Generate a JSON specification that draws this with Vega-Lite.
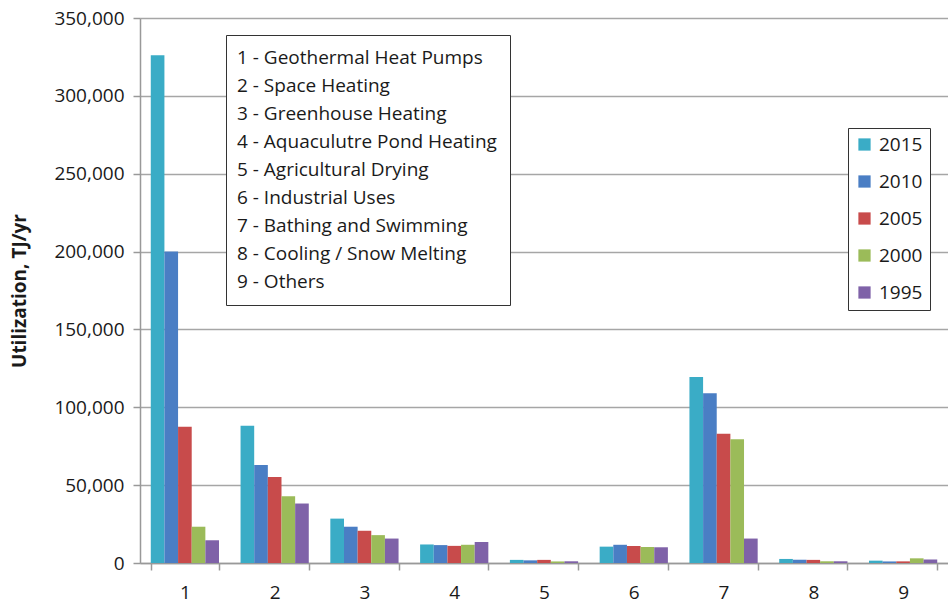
{
  "$schema": "https://vega.github.io/schema/vega-lite/v6.json",
  "width": 808,
  "height": 545,
  "autosize": {"type": "none"},
  "padding": {"left": 140, "top": 18, "right": 0, "bottom": 42},
  "background": "white",
  "config": {
    "view": {"stroke": null},
    "font": "Open Sans",
    "legend": {"labelFont": "Open Sans", "labelColor": "#1a1a1a"},
    "axis": {"labelFont": "Open Sans", "titleFont": "Open Sans", "labelColor": "#1a1a1a", "titleColor": "#1a1a1a"}
  },
  "datasets": {
    "bars": [
      {"cat": "1", "year": "2015", "value": 326000},
      {"cat": "1", "year": "2010", "value": 200000},
      {"cat": "1", "year": "2005", "value": 87500},
      {"cat": "1", "year": "2000", "value": 23300},
      {"cat": "1", "year": "1995", "value": 14600},
      {"cat": "2", "year": "2015", "value": 88200},
      {"cat": "2", "year": "2010", "value": 63000},
      {"cat": "2", "year": "2005", "value": 55300},
      {"cat": "2", "year": "2000", "value": 42900},
      {"cat": "2", "year": "1995", "value": 38200},
      {"cat": "3", "year": "2015", "value": 28500},
      {"cat": "3", "year": "2010", "value": 23300},
      {"cat": "3", "year": "2005", "value": 20700},
      {"cat": "3", "year": "2000", "value": 17900},
      {"cat": "3", "year": "1995", "value": 15700},
      {"cat": "4", "year": "2015", "value": 11900},
      {"cat": "4", "year": "2010", "value": 11500},
      {"cat": "4", "year": "2005", "value": 11000},
      {"cat": "4", "year": "2000", "value": 11700},
      {"cat": "4", "year": "1995", "value": 13500},
      {"cat": "5", "year": "2015", "value": 2000},
      {"cat": "5", "year": "2010", "value": 1700},
      {"cat": "5", "year": "2005", "value": 2000},
      {"cat": "5", "year": "2000", "value": 1000},
      {"cat": "5", "year": "1995", "value": 1100},
      {"cat": "6", "year": "2015", "value": 10500},
      {"cat": "6", "year": "2010", "value": 11700},
      {"cat": "6", "year": "2005", "value": 10900},
      {"cat": "6", "year": "2000", "value": 10200},
      {"cat": "6", "year": "1995", "value": 10100},
      {"cat": "7", "year": "2015", "value": 119400},
      {"cat": "7", "year": "2010", "value": 109000},
      {"cat": "7", "year": "2005", "value": 83000},
      {"cat": "7", "year": "2000", "value": 79500},
      {"cat": "7", "year": "1995", "value": 15700},
      {"cat": "8", "year": "2015", "value": 2600},
      {"cat": "8", "year": "2010", "value": 2100},
      {"cat": "8", "year": "2005", "value": 2000},
      {"cat": "8", "year": "2000", "value": 1100},
      {"cat": "8", "year": "1995", "value": 1100},
      {"cat": "9", "year": "2015", "value": 1500},
      {"cat": "9", "year": "2010", "value": 1000},
      {"cat": "9", "year": "2005", "value": 1050},
      {"cat": "9", "year": "2000", "value": 3000},
      {"cat": "9", "year": "1995", "value": 2250}
    ],
    "names": [
      {"cat": "1", "name": "1 - Geothermal Heat Pumps"},
      {"cat": "2", "name": "2 - Space Heating"},
      {"cat": "3", "name": "3 - Greenhouse Heating"},
      {"cat": "4", "name": "4 - Aquaculutre Pond Heating"},
      {"cat": "5", "name": "5 - Agricultural Drying"},
      {"cat": "6", "name": "6 - Industrial Uses"},
      {"cat": "7", "name": "7 - Bathing and Swimming"},
      {"cat": "8", "name": "8 - Cooling / Snow Melting"},
      {"cat": "9", "name": "9 - Others"}
    ]
  },
  "layer": [
    {
      "data": {"name": "bars"},
      "mark": {"type": "bar"},
      "encoding": {
        "x": {
          "field": "cat", "type": "nominal",
          "scale": {"paddingInner": 0.24, "paddingOuter": 0.12},
          "axis": {
            "title": null, "labelAngle": 0, "labelFontSize": 19, "tickBand": "extent",
            "tickSize": 7, "tickColor": "#999999", "domainColor": "#999999", "domainWidth": 1.5,
            "tickWidth": 1.5, "labelPadding": 13, "grid": false
          }
        },
        "xOffset": {
          "field": "year", "type": "nominal",
          "sort": ["2015", "2010", "2005", "2000", "1995"],
          "scale": {"paddingInner": 0, "paddingOuter": 0}
        },
        "y": {
          "field": "value", "type": "quantitative",
          "scale": {"domain": [0, 350000], "nice": false},
          "axis": {
            "title": "Utilization, TJ/yr", "titleFontSize": 19, "titleFontWeight": "bold",
            "titlePadding": 24, "labelFontSize": 19, "format": ",d",
            "values": [0, 50000, 100000, 150000, 200000, 250000, 300000, 350000],
            "tickSize": 7, "tickColor": "#999999", "tickWidth": 1.5,
            "domainColor": "#999999", "domainWidth": 1.5,
            "grid": true, "gridColor": "#a6a6a6", "gridWidth": 1.5, "labelPadding": 9
          }
        },
        "color": {
          "field": "year", "type": "nominal",
          "scale": {
            "domain": ["2015", "2010", "2005", "2000", "1995"],
            "range": ["#3aacc6", "#4a7ec4", "#c84b4b", "#9bbb59", "#7f62a8"]
          },
          "legend": {
            "orient": "none", "legendX": 708, "legendY": 110, "title": null,
            "labelFontSize": 19, "symbolType": "square", "symbolSize": 150,
            "rowPadding": 17, "padding": 7, "labelOffset": 5,
            "strokeColor": "#333333", "fillColor": "white", "symbolStrokeWidth": 0
          }
        }
      }
    },
    {
      "data": {"name": "names"},
      "mark": {"type": "point", "opacity": 0},
      "encoding": {
        "x": {"field": "cat", "type": "nominal"},
        "shape": {
          "field": "name", "type": "nominal",
          "legend": {
            "orient": "none", "legendX": 86, "legendY": 17, "title": null,
            "labelFontSize": 19, "symbolSize": 0, "symbolOpacity": 0, "symbolStrokeWidth": 0,
            "rowPadding": 8, "padding": 13, "labelOffset": -21, "labelLimit": 400,
            "strokeColor": "#333333", "fillColor": "white"
          }
        }
      }
    }
  ]
}
